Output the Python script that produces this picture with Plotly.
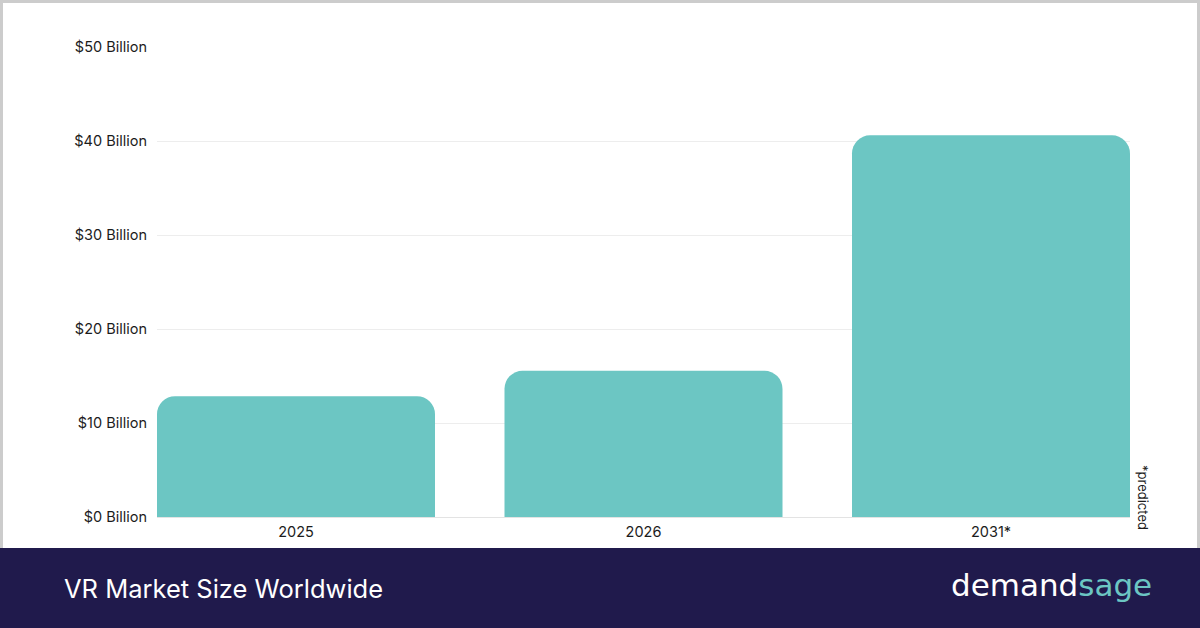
import plotly.graph_objects as go

years = ["2025", "2026", "2031*"]
market_size_billion = [12.85, 15.55, 40.6]
tick_values = [0, 10, 20, 30, 40, 50]
tick_labels = ["$0 Billion", "$10 Billion", "$20 Billion", "$30 Billion", "$40 Billion", "$50 Billion"]

W, H = 1200, 628
L, R, T, B = 157, 70, 47, 111
PW, PH = W - L - R, H - T - B

FONT = "Inter, Liberation Sans, Arial, sans-serif"


def px_x(x):
    return (x - L) / PW


def px_y(y):
    return (H - B - y) / PH


fig = go.Figure()
fig.add_trace(go.Bar(
    x=years, y=market_size_billion,
    marker=dict(color="#6cc6c3", line=dict(width=0)),
    hoverinfo="skip",
))

fig.update_layout(
    width=W, height=H,
    margin=dict(l=L, r=R, t=T, b=B),
    paper_bgcolor="white", plot_bgcolor="white",
    bargap=0.2,
    barcornerradius=18,
    showlegend=False,
    font=dict(family=FONT, color="#1c1c1c", size=14.5),
    xaxis=dict(
        range=[-0.4, 2.4], showgrid=False, showline=False, zeroline=False,
        ticks="", tickfont=dict(family=FONT, size=14.5, color="#1c1c1c"), ticklabelstandoff=4,
        fixedrange=True,
    ),
    yaxis=dict(
        range=[0, 50], tickvals=tick_values, ticktext=tick_labels,
        showgrid=True, gridcolor="#ededed", gridwidth=1,
        zeroline=True, zerolinecolor="#e3e3e3", zerolinewidth=1,
        showline=False, ticks="", tickfont=dict(family=FONT, size=14.5, color="#1c1c1c"),
        ticklabelstandoff=9, fixedrange=True,
    ),
)

shapes = []
# footer band
shapes.append(dict(type="rect", xref="paper", yref="paper",
                   x0=px_x(0), x1=px_x(W), y0=px_y(548), y1=px_y(H),
                   fillcolor="#201a4c", line=dict(width=0), layer="above"))
# grey frame
border = "#cccccc"
shapes.append(dict(type="rect", xref="paper", yref="paper",
                   x0=px_x(0), x1=px_x(3), y0=px_y(548), y1=px_y(0),
                   fillcolor=border, line=dict(width=0)))
shapes.append(dict(type="rect", xref="paper", yref="paper",
                   x0=px_x(0), x1=px_x(W), y0=px_y(3), y1=px_y(0),
                   fillcolor=border, line=dict(width=0)))
shapes.append(dict(type="rect", xref="paper", yref="paper",
                   x0=px_x(1197), x1=px_x(W), y0=px_y(548), y1=px_y(0),
                   fillcolor=border, line=dict(width=0)))
fig.update_layout(shapes=shapes)

fig.add_annotation(
    text="VR Market Size Worldwide", xref="paper", yref="paper",
    x=px_x(62), y=px_y(588), xanchor="left", yanchor="middle",
    showarrow=False, font=dict(family=FONT, size=25.5, color="white"),
)
fig.add_annotation(
    text="demand<span style='color:#6cc6c3'>sage</span>", xref="paper", yref="paper",
    x=px_x(1154), y=px_y(585), xanchor="right", yanchor="middle",
    showarrow=False, font=dict(family="DejaVu Sans, sans-serif", size=31, color="white"),
)
fig.add_annotation(
    text="*predicted", xref="paper", yref="paper",
    x=px_x(1143), y=px_y(497), xanchor="center", yanchor="middle",
    textangle=90, showarrow=False,
    font=dict(family=FONT, size=13, color="#1c1c1c"),
)

fig.write_html("out.html")
